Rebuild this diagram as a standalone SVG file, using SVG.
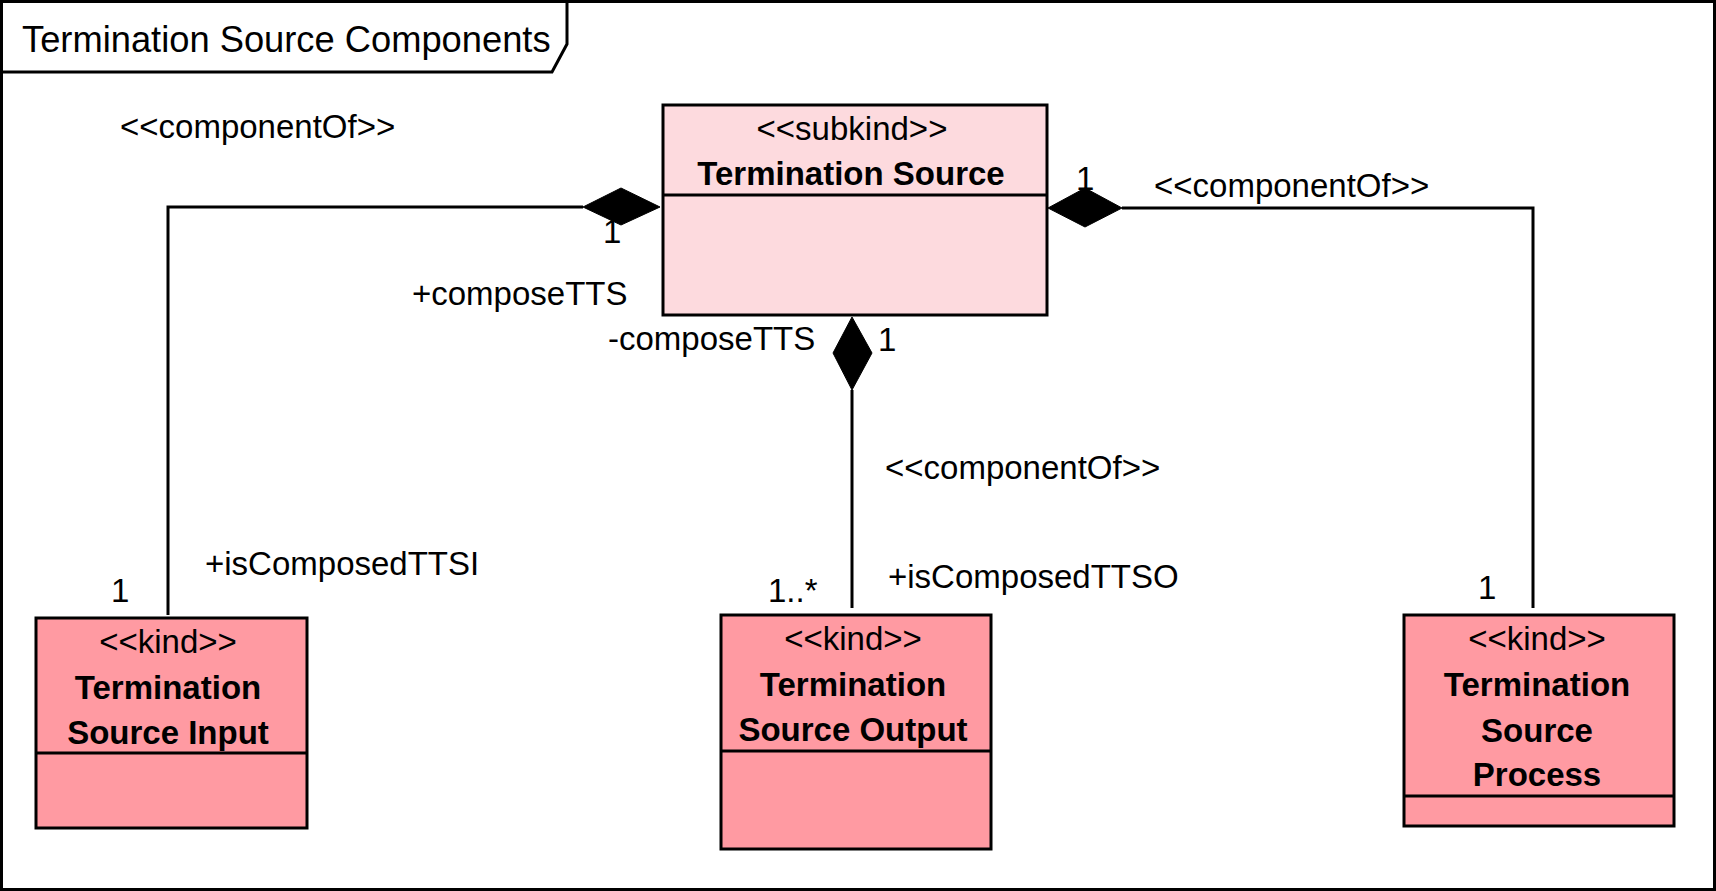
<svg xmlns="http://www.w3.org/2000/svg" width="1716" height="891" viewBox="0 0 1716 891">
  <style>
    .frame { fill: #ffffff; stroke: #000000; stroke-width: 3; }
    .box { stroke: #000000; stroke-width: 3; }
    .sub { fill: #FDDADE; }
    .kind { fill: #FF9AA2; }
    .div { stroke: #000000; stroke-width: 3; }
    .edge { fill: none; stroke: #000000; stroke-width: 3; }
    .dia { fill: #000000; stroke: #000000; stroke-width: 1; }
    text { font-family: "Liberation Sans", Arial, sans-serif; fill: #000000; }
    .lbl { font-size: 33px; }
    .st { font-size: 33px; text-anchor: middle; }
    .nm { font-size: 33px; font-weight: bold; text-anchor: middle; }
    .title { font-size: 36.3px; }
  </style>

  <g id="frame">
    <rect class="frame" x="1.5" y="1.5" width="1713" height="888"/>
    <path class="frame" d="M1.5,1.5 H567 V44 L552,72 H1.5 Z"/>
    <text class="title" x="22" y="52">Termination Source Components</text>
  </g>

  <g id="connectors">
    <!-- Input to Termination Source -->
    <polyline class="edge" points="168,615 168,207 583,207"/>
    <polygon class="dia" points="660,207 621,188 583,207 621,225"/>
    <!-- Output to Termination Source -->
    <line class="edge" x1="852" y1="390" x2="852" y2="608"/>
    <polygon class="dia" points="852,317 872,353 852,390 833,353"/>
    <!-- Process to Termination Source -->
    <polyline class="edge" points="1533,608 1533,208 1122,208"/>
    <polygon class="dia" points="1048,208 1085,188 1122,208 1085,227"/>

    <text class="lbl" x="120" y="138">&lt;&lt;componentOf&gt;&gt;</text>
    <text class="lbl" x="603" y="243">1</text>
    <text class="lbl" x="412" y="305">+composeTTS</text>
    <text class="lbl" x="205" y="575">+isComposedTTSI</text>
    <text class="lbl" x="111" y="602">1</text>

    <text class="lbl" x="608" y="350">-composeTTS</text>
    <text class="lbl" x="878" y="351">1</text>
    <text class="lbl" x="885" y="479">&lt;&lt;componentOf&gt;&gt;</text>
    <text class="lbl" x="888" y="588">+isComposedTTSO</text>
    <text class="lbl" x="768" y="602">1..*</text>

    <text class="lbl" x="1076" y="190">1</text>
    <text class="lbl" x="1154" y="197">&lt;&lt;componentOf&gt;&gt;</text>
    <text class="lbl" x="1478" y="599">1</text>
  </g>

  <g id="termination-source">
    <rect class="box sub" x="663" y="105" width="384" height="210"/>
    <line class="div" x1="663" y1="195" x2="1047" y2="195"/>
    <text class="st" x="852" y="140">&lt;&lt;subkind&gt;&gt;</text>
    <text class="nm" x="851" y="185">Termination Source</text>
  </g>

  <g id="termination-source-input">
    <rect class="box kind" x="36" y="618" width="271" height="210"/>
    <line class="div" x1="36" y1="753" x2="307" y2="753"/>
    <text class="st" x="168" y="653">&lt;&lt;kind&gt;&gt;</text>
    <text class="nm" x="168" y="699">Termination</text>
    <text class="nm" x="168" y="744">Source Input</text>
  </g>

  <g id="termination-source-output">
    <rect class="box kind" x="721" y="615" width="270" height="234"/>
    <line class="div" x1="721" y1="751" x2="991" y2="751"/>
    <text class="st" x="853" y="650">&lt;&lt;kind&gt;&gt;</text>
    <text class="nm" x="853" y="696">Termination</text>
    <text class="nm" x="853" y="741">Source Output</text>
  </g>

  <g id="termination-source-process">
    <rect class="box kind" x="1404" y="615" width="270" height="211"/>
    <line class="div" x1="1404" y1="796" x2="1674" y2="796"/>
    <text class="st" x="1537" y="650">&lt;&lt;kind&gt;&gt;</text>
    <text class="nm" x="1537" y="696">Termination</text>
    <text class="nm" x="1537" y="742">Source</text>
    <text class="nm" x="1537" y="786">Process</text>
  </g>
</svg>
